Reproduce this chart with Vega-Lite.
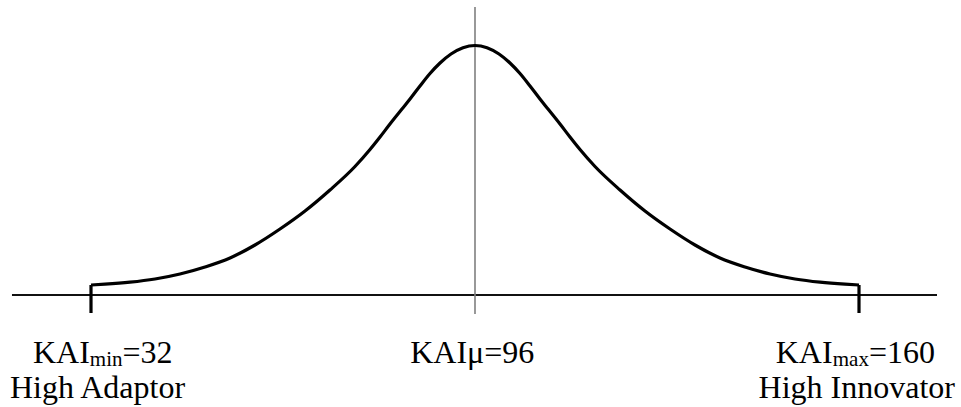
{
  "$schema": "https://vega.github.io/schema/vega-lite/v6.json",
  "width": 961,
  "height": 407,
  "padding": 0,
  "autosize": {"type": "none"},
  "background": "white",
  "config": {"view": {"stroke": null}},
  "datasets": {
    "curve": [
      {"kai": 32, "h": 10},
      {"kai": 34.33, "h": 10.8},
      {"kai": 38.5, "h": 12.8},
      {"kai": 42.67, "h": 16},
      {"kai": 46.83, "h": 21},
      {"kai": 51, "h": 28},
      {"kai": 55.17, "h": 37},
      {"kai": 59.33, "h": 50},
      {"kai": 63.5, "h": 66},
      {"kai": 67.67, "h": 84},
      {"kai": 71.83, "h": 105},
      {"kai": 76, "h": 128.5},
      {"kai": 78.5, "h": 145.5},
      {"kai": 80.17, "h": 158},
      {"kai": 81.83, "h": 171},
      {"kai": 83.83, "h": 186},
      {"kai": 85.17, "h": 196},
      {"kai": 86.83, "h": 209},
      {"kai": 88.5, "h": 221.5},
      {"kai": 90.17, "h": 232},
      {"kai": 92, "h": 241},
      {"kai": 94, "h": 247.3},
      {"kai": 96, "h": 249.5},
      {"kai": 98, "h": 247.3},
      {"kai": 100, "h": 241},
      {"kai": 101.83, "h": 232},
      {"kai": 103.5, "h": 221.5},
      {"kai": 105.17, "h": 209},
      {"kai": 106.83, "h": 196},
      {"kai": 108.17, "h": 186},
      {"kai": 110.17, "h": 171},
      {"kai": 111.83, "h": 158},
      {"kai": 113.5, "h": 145.5},
      {"kai": 116, "h": 128.5},
      {"kai": 120.17, "h": 105},
      {"kai": 124.33, "h": 84},
      {"kai": 128.5, "h": 66},
      {"kai": 132.67, "h": 50},
      {"kai": 136.83, "h": 37},
      {"kai": 141, "h": 28},
      {"kai": 145.17, "h": 21},
      {"kai": 149.33, "h": 16},
      {"kai": 153.5, "h": 12.8},
      {"kai": 157.67, "h": 10.8},
      {"kai": 160, "h": 10}
    ],
    "baseline": [{"x1": 18.83, "x2": 173, "h": 0}],
    "mean": [{"kai": 96, "top": 288, "bottom": -19}],
    "ends": [
      {"kai": 32, "top": 10, "bottom": -18},
      {"kai": 160, "top": 10, "bottom": -18}
    ],
    "labels": [
      {"kai": 22.33, "h": -68, "text": "KAI", "role": "main", "side": "left"},
      {"kai": 31.8, "h": -70.5, "text": "min", "role": "sub", "side": "left"},
      {"kai": 37.25, "h": -68, "text": "=32", "role": "main", "side": "left"},
      {"kai": 18.5, "h": -103.3, "text": "High Adaptor", "role": "main", "side": "left"},
      {"kai": 85.2, "h": -68, "text": "KAIμ=96", "role": "main", "side": "left"},
      {"kai": 155.6, "h": -68, "text": "KAI", "role": "main", "side": "right"},
      {"kai": 161.65, "h": -70.5, "text": "max", "role": "sub", "side": "right"},
      {"kai": 172.67, "h": -68, "text": "=160", "role": "main", "side": "right"},
      {"kai": 176, "h": -103.3, "text": "High Innovator", "role": "main", "side": "right"}
    ]
  },
  "resolve": {"scale": {"x": "shared", "y": "shared"}},
  "layer": [
    {
      "data": {"name": "baseline"},
      "mark": {"type": "rule", "color": "#111111", "strokeWidth": 2},
      "encoding": {
        "x": {"field": "x1", "type": "quantitative", "scale": {"domain": [16.8333, 177], "nice": false, "zero": false}, "axis": null},
        "x2": {"field": "x2"},
        "y": {"field": "h", "type": "quantitative", "scale": {"domain": [-112, 295], "nice": false, "zero": false}, "axis": null}
      }
    },
    {
      "data": {"name": "mean"},
      "mark": {"type": "rule", "color": "#7f7f7f", "strokeWidth": 1.6},
      "encoding": {
        "x": {"field": "kai", "type": "quantitative"},
        "y": {"field": "top", "type": "quantitative"},
        "y2": {"field": "bottom"}
      }
    },
    {
      "data": {"name": "ends"},
      "mark": {"type": "rule", "color": "black", "strokeWidth": 3.2},
      "encoding": {
        "x": {"field": "kai", "type": "quantitative"},
        "y": {"field": "top", "type": "quantitative"},
        "y2": {"field": "bottom"}
      }
    },
    {
      "data": {"name": "curve"},
      "mark": {"type": "line", "color": "black", "strokeWidth": 3.2, "interpolate": "monotone", "strokeJoin": "miter"},
      "encoding": {
        "x": {"field": "kai", "type": "quantitative"},
        "y": {"field": "h", "type": "quantitative"}
      }
    },
    {
      "data": {"name": "labels"},
      "transform": [{"filter": "datum.role === 'main' && datum.side === 'left'"}],
      "mark": {"type": "text", "font": "Liberation Serif", "fontSize": 32, "align": "left", "baseline": "alphabetic", "color": "black"},
      "encoding": {
        "x": {"field": "kai", "type": "quantitative"},
        "y": {"field": "h", "type": "quantitative"},
        "text": {"field": "text"}
      }
    },
    {
      "data": {"name": "labels"},
      "transform": [{"filter": "datum.role === 'main' && datum.side === 'right'"}],
      "mark": {"type": "text", "font": "Liberation Serif", "fontSize": 32, "align": "right", "baseline": "alphabetic", "color": "black"},
      "encoding": {
        "x": {"field": "kai", "type": "quantitative"},
        "y": {"field": "h", "type": "quantitative"},
        "text": {"field": "text"}
      }
    },
    {
      "data": {"name": "labels"},
      "transform": [{"filter": "datum.role === 'sub' && datum.side === 'left'"}],
      "mark": {"type": "text", "font": "Liberation Serif", "fontSize": 21, "align": "left", "baseline": "alphabetic", "color": "black"},
      "encoding": {
        "x": {"field": "kai", "type": "quantitative"},
        "y": {"field": "h", "type": "quantitative"},
        "text": {"field": "text"}
      }
    },
    {
      "data": {"name": "labels"},
      "transform": [{"filter": "datum.role === 'sub' && datum.side === 'right'"}],
      "mark": {"type": "text", "font": "Liberation Serif", "fontSize": 21, "align": "right", "baseline": "alphabetic", "color": "black"},
      "encoding": {
        "x": {"field": "kai", "type": "quantitative"},
        "y": {"field": "h", "type": "quantitative"},
        "text": {"field": "text"}
      }
    }
  ]
}
